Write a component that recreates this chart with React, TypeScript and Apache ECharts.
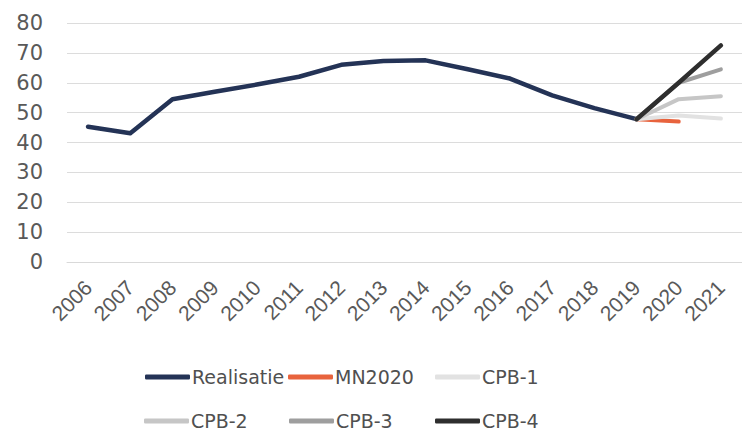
import React, { useEffect, useRef } from "react";
import * as echarts from "echarts";

const years = ["2006","2007","2008","2009","2010","2011","2012","2013","2014","2015","2016","2017","2018","2019","2020","2021"];
const realisatie = [45.3, 43.1, 54.5, 57, 59.4, 62, 66, 67.3, 67.5, 64.5, 61.4, 55.8, 51.5, 47.8, null, null];
const mn2020 = [null, null, null, null, null, null, null, null, null, null, null, null, null, 47.8, 47, null];
const cpb1 = [null, null, null, null, null, null, null, null, null, null, null, null, null, 47.8, 49, 48];
const cpb2 = [null, null, null, null, null, null, null, null, null, null, null, null, null, 47.8, 54.5, 55.5];
const cpb3 = [null, null, null, null, null, null, null, null, null, null, null, null, null, 47.8, 60, 64.5];
const cpb4 = [null, null, null, null, null, null, null, null, null, null, null, null, null, 47.8, 60, 72.5];
const yTicks = { min: 0, max: 80, interval: 10 };

const seriesDefs = [
  { name: "Realisatie", data: realisatie, color: "#243356", width: 4.5 },
  { name: "MN2020", data: mn2020, color: "#e8633d", width: 4 },
  { name: "CPB-1", data: cpb1, color: "#e2e2e2", width: 4 },
  { name: "CPB-2", data: cpb2, color: "#c6c6c6", width: 4 },
  { name: "CPB-3", data: cpb3, color: "#9e9e9e", width: 4 },
  { name: "CPB-4", data: cpb4, color: "#2e2e2e", width: 4.5 },
];

// legend placement: [left, top] per item (3 columns x 2 rows)
const legendPos: Record<string, [number, number]> = {
  "Realisatie": [145, 366],
  "MN2020": [288, 366],
  "CPB-1": [435, 366],
  "CPB-2": [144, 410],
  "CPB-3": [289, 410],
  "CPB-4": [435, 410],
};

export default function App() {
  const ref = useRef<HTMLDivElement>(null);
  useEffect(() => {
    if (!ref.current) return;
    const chart = echarts.init(ref.current, undefined, { renderer: "svg" });
    const legends = seriesDefs.map((s) => ({
      orient: "horizontal" as const,
      left: legendPos[s.name][0],
      top: legendPos[s.name][1],
      itemWidth: 45,
      itemHeight: 5,
      padding: 0,
      icon: "roundRect",
      data: [s.name],
      textStyle: {
        fontFamily: "DejaVu Sans",
        fontSize: 19,
        lineHeight: 22,
        color: "#505050",
        padding: [0, 0, 0, -3],
      },
    }));
    chart.setOption({
      animation: false,
      backgroundColor: "#ffffff",
      grid: { left: 67, right: -22, top: 23, bottom: 169, containLabel: false },
      legend: legends,
      xAxis: {
        type: "category",
        data: years,
        boundaryGap: true,
        axisLine: { show: true, lineStyle: { color: "#d9d9d9", width: 1 } },
        axisTick: { show: false },
        axisLabel: {
          rotate: 45,
          margin: 22,
          interval: 0,
          fontFamily: "Liberation Sans",
          fontSize: 21,
          color: "#595959",
        },
      },
      yAxis: {
        type: "value",
        min: yTicks.min,
        max: yTicks.max,
        interval: yTicks.interval,
        axisLine: { show: false },
        axisTick: { show: false },
        splitLine: { lineStyle: { color: "#dcdcdc", width: 1 } },
        axisLabel: { margin: 24, fontFamily: "DejaVu Sans", fontSize: 21, color: "#595959" },
      },
      series: seriesDefs.map((s) => ({
        name: s.name,
        type: "line",
        data: s.data,
        showSymbol: false,
        symbol: "none",
        connectNulls: false,
        color: s.color,
        lineStyle: { color: s.color, width: s.width, cap: "round", join: "round" },
      })),
    });
    return () => chart.dispose();
  }, []);
  return (
    <div
      ref={ref}
      style={{ position: "fixed", left: 0, top: 0, width: 742, height: 431, overflow: "hidden" }}
    />
  );
}
